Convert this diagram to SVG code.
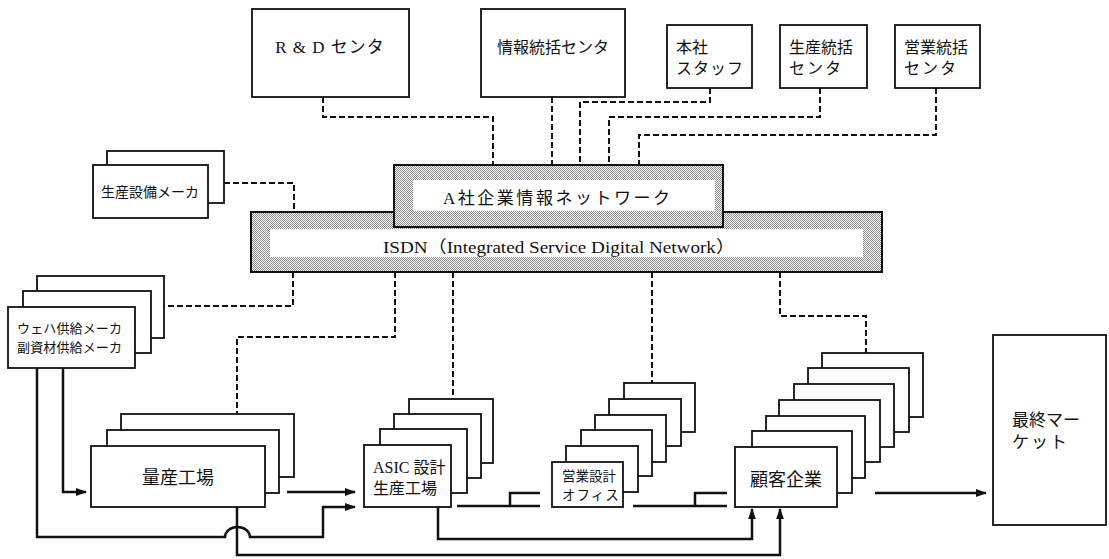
<svg xmlns="http://www.w3.org/2000/svg" width="1109" height="559" viewBox="0 0 1109 559">
<style>
.box{fill:#fff;stroke:#111;stroke-width:1.8}
.net{fill:url(#dots);stroke:#111;stroke-width:2}
.in{fill:#fff;stroke:none}
.t{font-family:"Liberation Serif","Noto Sans CJK JP",serif;fill:#111}
.dash{fill:none;stroke:#111;stroke-width:2;stroke-dasharray:6 3}
.solid{fill:none;stroke:#111;stroke-width:2.5}
.arr{fill:none;stroke:#111;stroke-width:2.5;marker-end:url(#ah)}
</style>
<defs>
<pattern id="dots" width="2" height="2" patternUnits="userSpaceOnUse">
<rect width="2" height="2" fill="#fff"/>
<rect width="1" height="1" fill="#8a8a8a"/>
<rect x="1" y="1" width="1" height="1" fill="#8a8a8a"/>
</pattern>
<marker id="ah" viewBox="0 0 10 10" refX="9" refY="5" markerWidth="4.5" markerHeight="4.5" orient="auto" markerUnits="strokeWidth">
<path d="M0,1.5 L10,5 L0,8.5 Z" fill="#111"/>
</marker>
</defs>
<rect width="1109" height="559" fill="#fff"/>

<g id="connectors">
<path class="dash" d="M323,97 V117 H493 V166"/>
<path class="dash" d="M552,97 V166"/>
<path class="dash" d="M710,88 V102 H580 V166"/>
<path class="dash" d="M820,88 V117 H609 V166"/>
<path class="dash" d="M936,88 V135 H639 V166"/>
<path class="dash" d="M224,183 H294 V212"/>
<path class="dash" d="M293,272 V306 H164"/>
<path class="dash" d="M395,272 V337 H237 V414"/>
<path class="dash" d="M453,272 V399"/>
<path class="dash" d="M652,272 V383"/>
<path class="dash" d="M780,272 V316 H866 V353"/>
<path class="arr" d="M37,368 V537 H225 A12.5,10 0 0 1 250,537 H323 V507 H355"/>
<path class="arr" d="M63,368 V492 H86"/>
<path class="arr" d="M287,492 H355"/>
<path class="arr" d="M237,507 V555 H780 V509"/>
<path class="arr" d="M438,507 V539 H752 V509"/>
<path class="solid" d="M457,506 H540 M510,506 V493 H540"/>
<path class="solid" d="M633,506 H727 M695,506 V493 H727"/>
<path class="arr" d="M875,493 H986"/>
</g>

<g id="rd-center">
<rect class="box" x="252" y="9" width="157" height="88"/>
<text class="t" x="330" y="53" font-size="17" text-anchor="middle" letter-spacing="1">R &amp; D センタ</text>
</g>
<g id="info-center">
<rect class="box" x="481" y="9" width="144" height="88"/>
<text class="t" x="553" y="53" font-size="16" text-anchor="middle">情報統括センタ</text>
</g>
<g id="hq-staff">
<rect class="box" x="667" y="25" width="85" height="63"/>
<text class="t" x="676" y="53" font-size="16">本社</text>
<text class="t" x="676" y="74" font-size="16" letter-spacing="1">スタッフ</text>
</g>
<g id="production-center">
<rect class="box" x="780" y="25" width="87" height="63"/>
<text class="t" x="789" y="53" font-size="16">生産統括</text>
<text class="t" x="789" y="74" font-size="16" letter-spacing="2">センタ</text>
</g>
<g id="sales-center">
<rect class="box" x="895" y="25" width="85" height="63"/>
<text class="t" x="904" y="53" font-size="16">営業統括</text>
<text class="t" x="904" y="74" font-size="16" letter-spacing="2">センタ</text>
</g>

<g id="isdn">
<rect class="net" x="251" y="212" width="631" height="60"/>
<rect class="in" x="270" y="229" width="593" height="28"/>
<text class="t" x="383" y="253" font-size="17" textLength="352" lengthAdjust="spacingAndGlyphs">ISDN（Integrated Service Digital Network）</text>
</g>
<g id="a-company-network">
<rect class="net" x="394" y="165" width="329" height="62"/>
<rect class="in" x="413" y="180" width="302" height="31"/>
<text class="t" x="443" y="204" font-size="17" textLength="227" lengthAdjust="spacing">A社企業情報ネットワーク</text>
</g>

<g id="equipment-maker">
<rect class="box" x="107" y="151" width="117" height="52"/>
<rect class="box" x="93" y="165" width="115" height="53"/>
<text class="t" x="150" y="197" font-size="14" text-anchor="middle">生産設備メーカ</text>
</g>
<g id="wafer-maker">
<rect class="box" x="37" y="276" width="127" height="62"/>
<rect class="box" x="23" y="291" width="128" height="62"/>
<rect class="box" x="8" y="307" width="127" height="61"/>
<text class="t" x="17" y="333" font-size="13" textLength="105">ウェハ供給メーカ</text>
<text class="t" x="17" y="352" font-size="13" textLength="105">副資材供給メーカ</text>
</g>
<g id="mass-factory">
<rect class="box" x="121" y="414" width="173" height="63"/>
<rect class="box" x="107" y="430" width="172" height="63"/>
<rect class="box" x="91" y="446" width="174" height="61"/>
<text class="t" x="178" y="484" font-size="18" text-anchor="middle">量産工場</text>
</g>
<g id="asic-factory">
<rect class="box" x="409" y="399" width="84" height="64"/>
<rect class="box" x="394" y="414" width="87" height="64"/>
<rect class="box" x="380" y="429" width="87" height="64"/>
<rect class="box" x="364" y="445" width="87" height="62"/>
<text class="t" x="373" y="473" font-size="16">ASIC 設計</text>
<text class="t" x="373" y="494" font-size="16">生産工場</text>
</g>
<g id="sales-office">
<rect class="box" x="624" y="383" width="71" height="49"/>
<rect class="box" x="609" y="399" width="72" height="47"/>
<rect class="box" x="595" y="415" width="71" height="47"/>
<rect class="box" x="581" y="430" width="71" height="46"/>
<rect class="box" x="566" y="446" width="72" height="46"/>
<rect class="box" x="552" y="462" width="71" height="45"/>
<text class="t" x="562" y="481" font-size="13.5">営業設計</text>
<text class="t" x="562" y="500" font-size="13.5" letter-spacing="1">オフィス</text>
</g>
<g id="customer">
<rect class="box" x="822" y="353" width="101" height="64"/>
<rect class="box" x="808" y="368" width="101" height="64"/>
<rect class="box" x="794" y="384" width="100" height="63"/>
<rect class="box" x="779" y="400" width="101" height="62"/>
<rect class="box" x="766" y="416" width="99" height="62"/>
<rect class="box" x="752" y="431" width="100" height="62"/>
<rect class="box" x="735" y="447" width="102" height="60"/>
<text class="t" x="786" y="486" font-size="18" text-anchor="middle">顧客企業</text>
</g>
<g id="final-market">
<rect class="box" x="993" y="335" width="113" height="190"/>
<text class="t" x="1012" y="426" font-size="17">最終マー</text>
<text class="t" x="1012" y="448" font-size="17" letter-spacing="2">ケット</text>
</g>
</svg>
